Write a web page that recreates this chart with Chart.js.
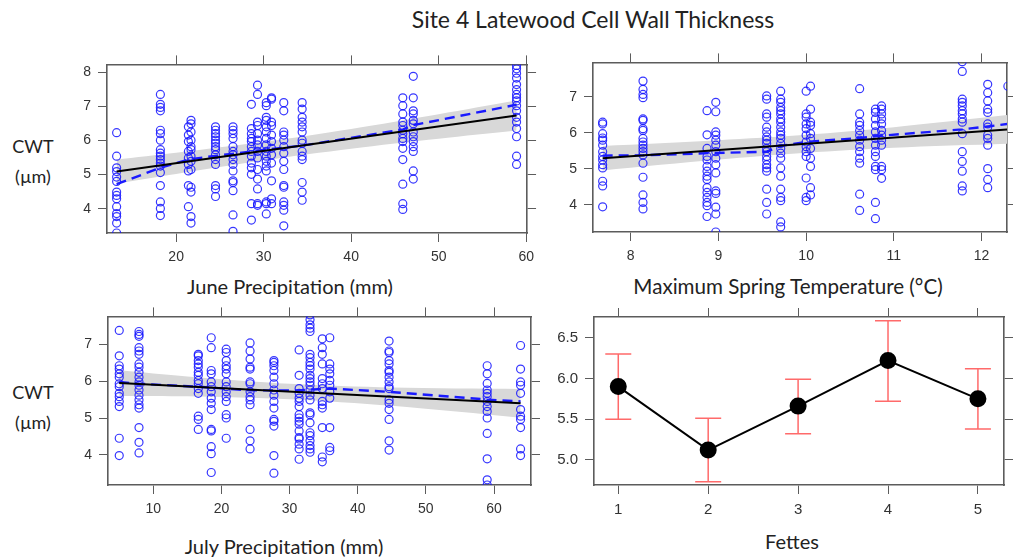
<!DOCTYPE html>
<html>
<head>
<meta charset="utf-8">
<script src="https://cdn.jsdelivr.net/npm/chart.js@4.4.1/dist/chart.umd.min.js"></script>
<style>
  body { margin: 0; background: #fff; width: 1013px; height: 560px; position: relative; overflow: hidden; }
  canvas { position: absolute; }
  .lbl { position: absolute; width: 400px; text-align: center; white-space: nowrap;
         font-family: Lato, "Open Sans", sans-serif; font-size: 20px; color: #222; line-height: 22px; }
  .ylab { font-size: 18px; }
  .main { font-size: 23px; line-height: 24px; }
</style>
</head>
<body>
<div class="lbl main" style="left:393px;top:7px;">Site 4 Latewood Cell Wall Thickness</div>
<div class="lbl ylab" style="left:-167px;top:135px;">CWT</div>
<div class="lbl ylab" style="left:-167px;top:165px;">(µm)</div>
<div class="lbl ylab" style="left:-167px;top:381px;">CWT</div>
<div class="lbl ylab" style="left:-167px;top:411px;">(µm)</div>
<div class="lbl" style="left:90px;top:275px;">June Precipitation (mm)</div>
<div class="lbl" style="left:588px;top:275px;font-size:20.6px;">Maximum Spring Temperature (°C)</div>
<div class="lbl" style="left:84px;top:535px;">July Precipitation (mm)</div>
<div class="lbl" style="left:592px;top:530px;">Fettes</div>

<canvas id="june"></canvas>
<canvas id="temp"></canvas>
<canvas id="july"></canvas>
<canvas id="fettes"></canvas>

<script>
// ===== DATA: JUNE PRECIPITATION =====
const juneX = [13.2, 18.2, 21.4, 21.7, 24.5, 26.5, 28.6, 29.3, 30.3, 30.9, 32.3, 34.4, 45.9, 47.1, 58.9];
const juneCWT = [
    [6.23, 5.54, 5.20, 5.09, 4.93, 4.80, 4.49, 4.39, 4.29, 4.06, 3.86, 3.77, 3.58, 3.29],
    [7.35, 7.06, 6.97, 6.87, 6.30, 6.20, 6.01, 5.73, 5.63, 5.54, 5.44, 5.34, 5.25, 5.06, 4.68, 4.20, 4.01, 3.80],
    [6.40, 6.16, 5.97, 5.68, 5.49, 5.30, 5.11, 4.68, 4.06],
    [6.59, 6.49, 6.25, 6.01, 5.82, 5.73, 5.54, 5.39, 5.15, 4.63, 4.49, 3.77, 3.58],
    [6.40, 6.30, 6.20, 6.11, 6.01, 5.92, 5.82, 5.73, 5.58, 5.44, 5.30, 4.68, 4.58, 4.36],
    [6.40, 6.30, 6.20, 6.06, 5.82, 5.68, 5.58, 5.44, 5.30, 5.11, 4.82, 4.77, 4.53, 3.82, 3.34],
    [7.06, 6.35, 6.20, 6.06, 5.97, 5.82, 5.68, 5.54, 5.34, 5.20, 5.01, 4.15, 3.67],
    [7.62, 7.35, 6.54, 6.44, 6.20, 6.01, 5.87, 5.68, 5.49, 5.15, 4.87, 4.58, 4.15, 4.10],
    [7.11, 7.02, 6.68, 6.59, 6.40, 6.25, 6.06, 5.87, 5.68, 5.54, 5.39, 5.25, 5.11, 4.20, 4.15, 3.85],
    [7.25, 7.21, 6.54, 6.44, 6.16, 5.97, 5.77, 5.58, 5.34, 4.82, 4.29, 4.15],
    [7.11, 6.87, 6.25, 6.16, 6.01, 5.82, 5.63, 5.39, 5.15, 4.68, 4.63, 4.20, 4.10, 3.96, 3.50],
    [7.11, 6.92, 6.68, 6.54, 6.40, 6.25, 6.01, 5.92, 5.68, 5.54, 5.44, 4.77, 4.49, 4.25],
    [7.25, 7.02, 6.78, 6.54, 6.44, 6.30, 6.20, 6.06, 5.97, 5.77, 5.44, 4.72, 4.15, 3.98],
    [7.88, 7.25, 6.87, 6.78, 6.59, 6.49, 6.25, 6.11, 5.97, 5.82, 5.68, 5.11, 4.87],
    [8.20, 8.10, 7.97, 7.83, 7.64, 7.49, 7.35, 7.25, 7.16, 7.02, 6.87, 6.68, 6.54, 6.35, 6.11, 5.54, 5.30]
];
const juneFitX = [13.2, 58.9];
const juneFitY = [5.09, 6.73];
const juneBandX = [13.2, 20, 30, 40, 50, 58.9];
const juneBandHi = [5.44, 5.64, 5.96, 6.34, 6.77, 7.17];
const juneBandLo = [4.74, 5.02, 5.42, 5.76, 6.05, 6.29];
const juneLoessX = [13.2, 18.2, 21.5, 24.5, 28.6, 30.9, 34.4, 45.9, 47.1, 58.9];
const juneLoessY = [4.72, 5.20, 5.45, 5.55, 5.68, 5.75, 5.85, 6.32, 6.45, 7.05];
const juneTicksX = [20, 30, 40, 50, 60];
const juneTicksY = [4, 5, 6, 7, 8];

// ===== DATA: MAXIMUM SPRING TEMPERATURE =====
const tempX = [7.68, 8.14, 8.87, 8.97, 9.55, 9.71, 10.0, 10.05, 10.61, 10.79, 10.86, 11.78, 12.07, 12.30];
const tempCWT = [
    [6.30, 6.25, 5.98, 5.86, 5.80, 5.66, 5.48, 5.35, 5.25, 5.12, 5.03, 4.66, 4.53, 3.95],
    [7.44, 7.21, 7.07, 6.98, 6.39, 6.35, 6.12, 6.07, 5.85, 5.75, 5.66, 5.57, 5.48, 5.39, 5.16, 4.77, 4.28, 4.07, 3.89],
    [6.62, 5.95, 5.57, 5.35, 5.25, 5.07, 4.94, 4.80, 4.71, 4.48, 4.35, 4.21, 4.07, 3.98, 3.68],
    [6.85, 6.59, 6.03, 5.94, 5.80, 5.66, 5.48, 5.30, 5.12, 4.89, 4.39, 4.32, 3.94, 3.75, 3.25],
    [7.03, 6.94, 6.53, 6.44, 6.16, 6.03, 5.89, 5.80, 5.71, 5.57, 5.48, 5.35, 5.25, 5.12, 5.03, 4.94, 4.44, 4.07, 3.75],
    [7.16, 6.94, 6.85, 6.71, 6.62, 6.53, 6.39, 6.30, 6.16, 6.03, 5.94, 5.85, 5.71, 5.57, 5.44, 5.30, 5.03, 4.80, 4.44, 4.21, 4.12, 3.53, 3.39],
    [7.16, 6.53, 6.44, 6.25, 6.12, 5.94, 5.75, 5.62, 5.48, 5.35, 4.75, 4.21, 4.12],
    [7.30, 6.66, 6.30, 6.21, 5.98, 5.85, 5.57, 5.30, 5.07, 4.48, 4.28],
    [7.23, 6.53, 6.30, 6.21, 6.07, 5.94, 5.80, 5.62, 5.48, 5.30, 5.16, 4.30, 3.85],
    [6.66, 6.57, 6.39, 6.21, 6.03, 5.85, 5.66, 5.48, 5.35, 5.07, 4.98, 4.07, 3.62],
    [6.75, 6.66, 6.53, 6.39, 6.25, 6.07, 5.94, 5.80, 5.66, 5.07, 4.98, 4.74],
    [7.98, 7.71, 6.94, 6.85, 6.75, 6.62, 6.53, 6.39, 6.30, 5.98, 5.48, 5.21, 4.94, 4.53, 4.39],
    [7.35, 7.12, 6.89, 6.66, 6.57, 6.25, 6.16, 5.94, 5.85, 5.66, 5.01, 4.71, 4.48],
    [7.30, 7.16, 6.94, 6.85, 6.53, 6.44, 6.30, 6.21, 5.89, 5.85, 5.25, 5.12, 4.48, 4.28]
];
const tempFitX = [7.68, 12.3];
const tempFitY = [5.30, 6.10];
const tempBandX = [7.68, 9, 10, 11, 12.3];
const tempBandHi = [5.64, 5.80, 5.95, 6.16, 6.50];
const tempBandLo = [4.96, 5.26, 5.45, 5.59, 5.70];
const tempLoessX = [7.68, 8.14, 8.9, 9.55, 9.71, 10.03, 10.61, 10.83, 11.78, 12.07, 12.3];
const tempLoessY = [5.37, 5.38, 5.44, 5.48, 5.64, 5.76, 5.86, 5.92, 6.10, 6.18, 6.25];
const tempTicksX = [8, 9, 10, 11, 12];
const tempTicksY = [4, 5, 6, 7];

// ===== DATA: JULY PRECIPITATION =====
const julyX = [5.0, 7.9, 16.6, 18.5, 20.7, 24.2, 27.7, 31.4, 33.0, 34.8, 35.9, 44.6, 59.0, 63.9];
const julyCWT = [
    [7.38, 6.69, 6.42, 6.33, 6.20, 6.11, 5.93, 5.85, 5.67, 5.58, 5.45, 5.31, 4.45, 3.98],
    [7.35, 7.27, 7.22, 6.91, 6.82, 6.73, 6.47, 6.38, 6.24, 6.11, 5.98, 5.89, 5.76, 5.62, 5.49, 5.36, 5.27, 4.74, 4.34, 4.05],
    [6.73, 6.69, 6.56, 6.47, 6.38, 6.24, 6.16, 6.02, 5.93, 5.80, 5.67, 5.05, 4.96, 4.69],
    [7.18, 6.91, 6.29, 6.20, 5.98, 5.85, 5.71, 5.54, 5.40, 5.23, 4.69, 4.65, 4.22, 4.03, 3.52],
    [6.87, 6.78, 6.56, 6.42, 6.33, 6.20, 5.98, 5.85, 5.71, 5.58, 5.45, 5.09, 5.00, 4.45],
    [7.04, 6.82, 6.60, 6.38, 6.33, 5.98, 5.93, 5.71, 5.58, 5.49, 5.36, 4.69, 4.38, 4.16],
    [6.56, 6.51, 6.42, 6.29, 6.11, 5.93, 5.76, 5.62, 5.45, 5.27, 4.96, 4.91, 4.78, 3.98, 3.50],
    [6.85, 6.16, 5.80, 5.67, 5.54, 5.45, 5.31, 5.09, 5.00, 4.91, 4.83, 4.65, 4.47, 4.43, 4.29, 4.16, 3.88],
    [7.80, 7.67, 7.53, 7.44, 7.35, 6.73, 6.64, 6.51, 6.42, 6.33, 6.16, 6.07, 5.98, 5.89, 5.76, 5.62, 5.49, 5.14, 5.09, 4.87, 4.60, 4.52, 4.38, 4.25, 4.16, 4.07],
    [7.15, 6.91, 6.73, 6.47, 6.07, 5.93, 5.80, 5.45, 5.36, 5.27, 4.74, 3.94, 3.81],
    [7.18, 6.47, 6.33, 6.20, 6.02, 5.89, 5.71, 5.54, 4.74, 4.20, 4.11],
    [7.09, 6.82, 6.78, 6.56, 6.47, 6.29, 6.24, 6.11, 5.98, 5.85, 5.80, 5.49, 5.40, 5.23, 4.96, 4.38, 4.13],
    [6.42, 6.20, 5.94, 5.76, 5.67, 5.58, 5.45, 5.31, 5.18, 5.00, 4.58, 3.89, 3.32, 3.18],
    [6.97, 6.33, 5.98, 5.89, 5.67, 5.23, 5.05, 4.96, 4.74, 4.16, 3.98]
];
const julyFitX = [5.0, 63.9];
const julyFitY = [5.95, 5.40];
const julyBandX = [5.0, 15, 30, 45, 63.9];
const julyBandHi = [6.30, 6.13, 5.93, 5.83, 5.79];
const julyBandLo = [5.60, 5.59, 5.51, 5.33, 5.01];
const julyLoessX = [5.0, 7.9, 16.6, 24.2, 31.4, 33.0, 35.9, 44.6, 59.0, 63.9];
const julyLoessY = [5.98, 5.93, 5.85, 5.75, 5.75, 5.77, 5.80, 5.71, 5.50, 5.45];
const julyTicksX = [10, 20, 30, 40, 50, 60];
const julyTicksY = [4, 5, 6, 7];

// ===== DATA: FETTES =====
const fettesX = [1, 2, 3, 4, 5];
const fettesMean = [5.90, 5.12, 5.66, 6.22, 5.75];
const fettesLo = [5.50, 4.73, 5.32, 5.72, 5.38];
const fettesHi = [6.30, 5.51, 5.99, 6.71, 6.12];
const fettesTicksY = [5.0, 5.5, 6.0, 6.5];

// ===== HELPERS =====
const FRAME = '#5c5c5c';
const LEFT = 50, TOP = 12, RIGHT = 12, BOTTOM = 35;

function toPoints(xs, ys) {
    return xs.map((x, i) => ({ x: x, y: ys[i] }));
}

function columnPoints(xs, cols) {
    const pts = [];
    xs.forEach((x, i) => cols[i].forEach(y => pts.push({ x: x, y: y })));
    return pts;
}

function axis(pos, min, max, ticks, size, showLabels, fmt, fontSize) {
    return {
        type: 'linear',
        position: pos,
        min: min,
        max: max,
        afterBuildTicks: s => { s.ticks = ticks.map(v => ({ value: v })); },
        afterFit: s => {
            if (pos === 'left' || pos === 'right') s.width = size;
            else s.height = size;
        },
        grid: { drawOnChartArea: false, drawTicks: true, tickLength: 9, color: FRAME, lineWidth: 1 },
        border: { display: true, color: FRAME, width: 1.6 },
        ticks: {
            display: showLabels,
            padding: 7,
            color: '#333',
            font: { family: 'Liberation Sans', size: fontSize || 14 },
            callback: fmt || (v => v)
        }
    };
}

function scales(xr, yr, xTicks, yTicks, fmt, fontSize) {
    return {
        x: axis('bottom', xr[0], xr[1], xTicks, BOTTOM, true, null, fontSize),
        x2: axis('top', xr[0], xr[1], xTicks, TOP, false),
        y: axis('left', yr[0], yr[1], yTicks, LEFT, true, fmt, fontSize),
        y2: axis('right', yr[0], yr[1], yTicks, RIGHT, false)
    };
}

function place(id, box) {
    const c = document.getElementById(id);
    c.width = box.r - box.l + LEFT + RIGHT;
    c.height = box.b - box.t + TOP + BOTTOM;
    c.style.left = (box.l - LEFT) + 'px';
    c.style.top = (box.t - TOP) + 'px';
    return c;
}

const baseOptions = {
    responsive: false,
    animation: false,
    layout: { padding: 0 },
    plugins: { legend: { display: false }, tooltip: { enabled: false } }
};

function scatterPanel(id, box, p) {
    new Chart(place(id, box), {
        type: 'scatter',
        data: {
            datasets: [
                {
                    data: toPoints(p.fitX, p.fitY),
                    showLine: true, borderColor: '#000', borderWidth: 2, pointRadius: 0
                },
                {
                    data: toPoints(p.loessX, p.loessY),
                    showLine: true, borderColor: '#1a1aff', borderWidth: 2.4,
                    borderDash: [10, 6], pointRadius: 0
                },
                {
                    data: columnPoints(p.colX, p.cols),
                    pointRadius: 4, pointBorderWidth: 1.2,
                    borderColor: 'rgba(20,20,255,0.85)', backgroundColor: 'rgba(0,0,0,0)'
                },
                {
                    data: toPoints(p.bandX, p.bandHi),
                    showLine: true, borderWidth: 0, pointRadius: 0, tension: 0.3,
                    fill: '+1', backgroundColor: '#d8d8d8'
                },
                {
                    data: toPoints(p.bandX, p.bandLo),
                    showLine: true, borderWidth: 0, pointRadius: 0, tension: 0.3, fill: false
                }
            ]
        },
        options: Object.assign({}, baseOptions, { scales: scales(p.xr, p.yr, p.xTicks, p.yTicks) })
    });
}

// ===== PANELS =====
scatterPanel('june', { l: 107, t: 61, r: 529, b: 233 }, {
    xr: [12.1, 60.1], yr: [3.29, 8.23], xTicks: juneTicksX, yTicks: juneTicksY,
    colX: juneX, cols: juneCWT, fitX: juneFitX, fitY: juneFitY,
    bandX: juneBandX, bandHi: juneBandHi, bandLo: juneBandLo,
    loessX: juneLoessX, loessY: juneLoessY
});

scatterPanel('temp', { l: 593, t: 59, r: 1007, b: 232 }, {
    xr: [7.57, 12.29], yr: [3.25, 7.96], xTicks: tempTicksX, yTicks: tempTicksY,
    colX: tempX, cols: tempCWT, fitX: tempFitX, fitY: tempFitY,
    bandX: tempBandX, bandHi: tempBandHi, bandLo: tempBandLo,
    loessX: tempLoessX, loessY: tempLoessY
});

scatterPanel('july', { l: 108, t: 313, r: 531, b: 485 }, {
    xr: [3.35, 65.43], yr: [3.18, 7.76], xTicks: julyTicksX, yTicks: julyTicksY,
    colX: julyX, cols: julyCWT, fitX: julyFitX, fitY: julyFitY,
    bandX: julyBandX, bandHi: julyBandHi, bandLo: julyBandLo,
    loessX: julyLoessX, loessY: julyLoessY
});

// error bars drawn under the mean markers
const errorBars = {
    id: 'errorBars',
    beforeDatasetsDraw(chart) {
        const ctx = chart.ctx, x = chart.scales.x, y = chart.scales.y;
        ctx.save();
        ctx.strokeStyle = '#ff6a6a';
        ctx.lineWidth = 1.5;
        fettesX.forEach((v, i) => {
            const px = x.getPixelForValue(v);
            const top = y.getPixelForValue(fettesHi[i]);
            const bot = y.getPixelForValue(fettesLo[i]);
            ctx.beginPath();
            ctx.moveTo(px, top); ctx.lineTo(px, bot);
            ctx.moveTo(px - 13, top); ctx.lineTo(px + 13, top);
            ctx.moveTo(px - 13, bot); ctx.lineTo(px + 13, bot);
            ctx.stroke();
        });
        ctx.restore();
    }
};

new Chart(place('fettes', { l: 594, t: 313, r: 1004, b: 485 }), {
    type: 'scatter',
    data: {
        datasets: [{
            data: toPoints(fettesX, fettesMean),
            showLine: true, borderColor: '#000', borderWidth: 2,
            pointRadius: 7.5, pointBackgroundColor: '#000', pointBorderColor: '#000'
        }]
    },
    options: Object.assign({}, baseOptions, {
        scales: scales([0.73, 5.29], [4.69, 6.756], fettesX, fettesTicksY, v => v.toFixed(1), 15)
    }),
    plugins: [errorBars]
});
</script>
</body>
</html>
